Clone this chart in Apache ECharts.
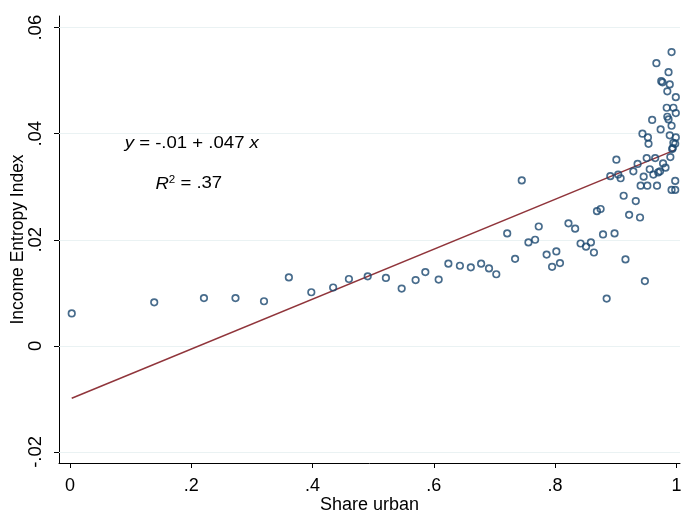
<!DOCTYPE html>
<html><head><meta charset="utf-8">
<script src="https://cdn.jsdelivr.net/npm/echarts@6/dist/echarts.min.js"></script>
<style>html,body{margin:0;padding:0;background:#fff}#c{width:681px;height:513px}</style>
</head><body><div id="c"></div>
<script>
// Share urban (x) and Income Entropy Index (y)
const shareUrban = [0.003,0.139,0.221,0.273,0.320,0.361,0.398,0.434,0.460,0.491,0.521,0.547,0.570,0.586,0.608,0.624,0.643,0.661,0.678,0.691,0.703,0.721,0.734,0.745,0.756,0.767,0.773,0.786,0.795,0.802,0.808,0.822,0.833,0.842,0.851,0.859,0.864,0.869,0.875,0.879,0.885,0.891,0.898,0.901,0.904,0.908,0.913,0.916,0.922,0.929,0.933,0.936,0.940,0.941,0.944,0.946,0.948,0.951,0.952,0.953,0.954,0.956,0.960,0.962,0.965,0.967,0.968,0.970,0.973,0.974,0.975,0.977,0.978,0.982,0.984,0.985,0.985,0.987,0.987,0.989,0.989,0.990,0.992,0.992,0.992,0.993,0.994,0.995,0.995,0.998,0.998,0.998,0.999,0.999,0.999];
const entropy = [0.0061,0.0082,0.0090,0.0090,0.0084,0.0129,0.0101,0.0110,0.0126,0.0131,0.0128,0.0108,0.0124,0.0139,0.0125,0.0155,0.0151,0.0148,0.0155,0.0146,0.0135,0.0212,0.0164,0.0312,0.0195,0.0200,0.0225,0.0172,0.0149,0.0178,0.0156,0.0231,0.0221,0.0193,0.0187,0.0195,0.0176,0.0254,0.0258,0.0210,0.0089,0.0320,0.0212,0.0351,0.0323,0.0316,0.0283,0.0163,0.0247,0.0329,0.0273,0.0343,0.0242,0.0302,0.0400,0.0319,0.0122,0.0354,0.0302,0.0393,0.0381,0.0333,0.0426,0.0323,0.0354,0.0533,0.0302,0.0327,0.0329,0.0408,0.0499,0.0497,0.0344,0.0336,0.0449,0.0432,0.0480,0.0427,0.0516,0.0493,0.0397,0.0356,0.0554,0.0415,0.0294,0.0371,0.0373,0.0449,0.0383,0.0381,0.0311,0.0294,0.0469,0.0439,0.0393];
// fitted line endpoints (y = -.01 + .047 x)
const fitX = [0.003, 0.999];
const fitY = [-0.0099, 0.0370];
const xTicks = [0, 0.2, 0.4, 0.6, 0.8, 1];
const xTickLabels = ['0', '.2', '.4', '.6', '.8', '1'];
const yTicks = [-0.02, 0, 0.02, 0.04, 0.06];
const yTickLabels = ['-.02', '0', '.02', '.04', '.06'];

const chart = echarts.init(document.getElementById('c'));
const font = 'Liberation Sans, Arial, sans-serif';
const xLab = v => { const i = xTicks.findIndex(t => Math.abs(t - v) < 1e-6); return i >= 0 ? xTickLabels[i] : ''; };
const yLab = v => { const i = yTicks.findIndex(t => Math.abs(t - v) < 1e-6); return i >= 0 ? yTickLabels[i] : ''; };

chart.setOption({
  animation: false,
  backgroundColor: '#fff',
  grid: { left: 59, right: 1, top: 16, bottom: 50, containLabel: false, outerBoundsMode: 'none' },
  xAxis: {
    type: 'value', min: -0.018, max: 1.0059,
    name: 'Share urban', nameLocation: 'middle', nameGap: 33, nameMoveOverlap: false,
    nameTextStyle: { fontFamily: font, fontSize: 18, color: '#000' },
    axisLine: { show: true, onZero: false, lineStyle: { color: '#000', width: 1 } },
    axisTick: { show: true, length: 5, lineStyle: { color: '#000' }, customValues: xTicks },
    axisLabel: { customValues: xTicks, formatter: xLab, fontFamily: font, fontSize: 18, color: '#000', margin: 14 },
    splitLine: { show: false }
  },
  yAxis: {
    type: 'value', min: -0.0221, max: 0.0622,
    name: 'Income Entropy Index', nameLocation: 'middle', nameGap: 32, nameMoveOverlap: false,
    nameTextStyle: { fontFamily: font, fontSize: 17.5, color: '#000' },
    axisLine: { show: true, onZero: false, lineStyle: { color: '#000', width: 1 } },
    axisTick: { show: true, length: 5, lineStyle: { color: '#000' }, customValues: yTicks },
    axisLabel: { customValues: yTicks, formatter: yLab, rotate: 90, fontFamily: font, fontSize: 18.5, color: '#000', margin: 14 },
    splitLine: { show: false }
  },
  series: [
    {
      type: 'scatter', z: 3,
      data: shareUrban.map((x, i) => [x, entropy[i]]),
      symbol: 'circle', symbolSize: 6.5,
      itemStyle: { color: 'rgba(255,255,255,0)', borderColor: '#1a476f', borderWidth: 1.7 },
      markLine: {
        silent: true, symbol: ['none', 'none'], label: { show: false },
        lineStyle: { color: '#eaf2f3', width: 1.2, type: 'solid' },
        data: yTicks.map(v => ({ yAxis: v })),
        z: 1
      }
    },
    {
      type: 'line', z: 2,
      data: fitX.map((x, i) => [x, fitY[i]]),
      symbol: 'none',
      lineStyle: { color: '#90353b', width: 1.5 }
    }
  ]
});

const p1 = chart.convertToPixel({ gridIndex: 0 }, [0.201, 0.0382]);
const p2 = chart.convertToPixel({ gridIndex: 0 }, [0.196, 0.0305]);
chart.setOption({
  graphic: [
    { type: 'text', x: p1[0], y: p1[1], scaleX: 1.16, style: {
      text: '{i|y} = -.01 + .047 {i|x}', align: 'center', verticalAlign: 'middle',
      font: '16px ' + font, fill: '#000',
      rich: { i: { fontStyle: 'italic', fontSize: 16, fontFamily: font } } } },
    { type: 'text', x: p2[0], y: p2[1], scaleX: 1.16, style: {
      text: '{i|R}{s|2} = .37', align: 'center', verticalAlign: 'middle',
      font: '16px ' + font, fill: '#000',
      rich: { i: { fontStyle: 'italic', fontSize: 16, fontFamily: font },
              s: { fontSize: 10, fontFamily: font, verticalAlign: 'top', padding: [0, 0, 8, 0] } } } }
  ]
});
</script></body></html>
